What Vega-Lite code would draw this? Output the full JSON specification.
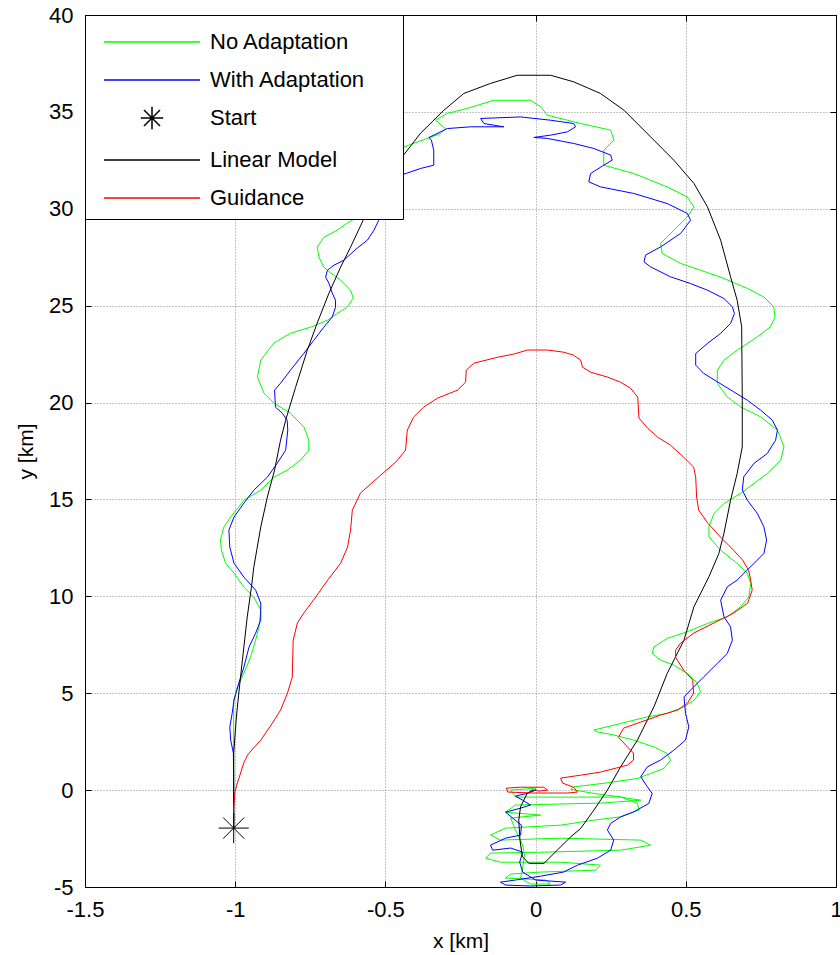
{
"$schema": "https://vega.github.io/schema/vega-lite/v6.json",
"width": 751, "height": 872,
"autosize": {"type": "none"},
"padding": {"left": 85, "top": 15, "right": 4, "bottom": 68},
"background": "white",
"config": {
  "view": {"stroke": "black", "strokeWidth": 1},
  "axis": {"labelFont": "Liberation Sans", "labelFontSize": 22, "labelColor": "black", "titleFont": "Liberation Sans", "titleFontSize": 21, "titleFontWeight": "normal", "titleColor": "black", "domainColor": "black", "tickColor": "black", "tickSize": -6, "gridColor": "#000000", "gridOpacity": 0.45, "gridDash": [1, 2], "gridWidth": 1}
},
"datasets": {
"green": [{"x":-1.005,"y":-1.96},{"x":-1.005,"y":0},{"x":-1.005,"y":1.91},{"x":-1.005,"y":4.64},{"x":-0.993,"y":5.31},{"x":-0.971,"y":6.04},{"x":-0.949,"y":6.86},{"x":-0.932,"y":7.74},{"x":-0.921,"y":8.41},{"x":-0.915,"y":9.29},{"x":-0.938,"y":9.96},{"x":-0.971,"y":10.47},{"x":-1.004,"y":11.2},{"x":-1.032,"y":11.71},{"x":-1.046,"y":12.38},{"x":-1.049,"y":12.9},{"x":-1.038,"y":13.57},{"x":-1.015,"y":14.09},{"x":-0.971,"y":14.96},{"x":-0.915,"y":15.48},{"x":-0.871,"y":16.15},{"x":-0.827,"y":16.51},{"x":-0.782,"y":17.03},{"x":-0.755,"y":17.54},{"x":-0.755,"y":18.06},{"x":-0.771,"y":18.73},{"x":-0.816,"y":19.45},{"x":-0.871,"y":19.97},{"x":-0.904,"y":20.48},{"x":-0.926,"y":21.31},{"x":-0.915,"y":22.19},{"x":-0.871,"y":23.07},{"x":-0.816,"y":23.58},{"x":-0.749,"y":23.89},{"x":-0.693,"y":24.25},{"x":-0.66,"y":24.61},{"x":-0.627,"y":24.92},{"x":-0.607,"y":25.39},{"x":-0.616,"y":25.8},{"x":-0.649,"y":26.32},{"x":-0.682,"y":26.68},{"x":-0.705,"y":26.99},{"x":-0.721,"y":27.5},{"x":-0.727,"y":28.02},{"x":-0.705,"y":28.53},{"x":-0.66,"y":28.9},{"x":-0.627,"y":29.26},{"x":-0.599,"y":29.51},{"x":-0.533,"y":30.7},{"x":-0.483,"y":32.25},{"x":-0.438,"y":33.19},{"x":-0.361,"y":33.63},{"x":-0.316,"y":33.88},{"x":-0.3,"y":34.14},{"x":-0.333,"y":34.57},{"x":-0.294,"y":34.92},{"x":-0.227,"y":35.18},{"x":-0.139,"y":35.6},{"x":-0.017,"y":35.6},{"x":0.017,"y":35.26},{"x":0.039,"y":34.83},{"x":0.106,"y":34.57},{"x":0.15,"y":34.4},{"x":0.25,"y":34.06},{"x":0.261,"y":33.54},{"x":0.227,"y":33.02},{"x":0.227,"y":32.25},{"x":0.327,"y":31.82},{"x":0.438,"y":31.13},{"x":0.505,"y":30.61},{"x":0.527,"y":30.1},{"x":0.505,"y":29.58},{"x":0.472,"y":29.07},{"x":0.416,"y":28.21},{"x":0.422,"y":27.69},{"x":0.483,"y":27.18},{"x":0.549,"y":26.83},{"x":0.627,"y":26.4},{"x":0.705,"y":25.89},{"x":0.76,"y":25.45},{"x":0.793,"y":24.94},{"x":0.797,"y":24.42},{"x":0.782,"y":23.91},{"x":0.738,"y":23.39},{"x":0.671,"y":22.7},{"x":0.627,"y":22.19},{"x":0.605,"y":21.67},{"x":0.605,"y":20.99},{"x":0.638,"y":20.29},{"x":0.682,"y":19.78},{"x":0.749,"y":19.26},{"x":0.805,"y":18.58},{"x":0.827,"y":17.71},{"x":0.816,"y":17.03},{"x":0.771,"y":16.34},{"x":0.727,"y":15.83},{"x":0.682,"y":15.31},{"x":0.627,"y":14.79},{"x":0.594,"y":14.28},{"x":0.577,"y":13.59},{"x":0.577,"y":13.07},{"x":0.616,"y":12.38},{"x":0.671,"y":11.7},{"x":0.705,"y":11.18},{"x":0.716,"y":10.67},{"x":0.71,"y":9.97},{"x":0.682,"y":9.46},{"x":0.638,"y":8.94},{"x":0.572,"y":8.6},{"x":0.505,"y":8.17},{"x":0.438,"y":7.83},{"x":0.394,"y":7.39},{"x":0.388,"y":7.05},{"x":0.416,"y":6.71},{"x":0.46,"y":6.45},{"x":0.505,"y":6.02},{"x":0.538,"y":5.51},{"x":0.549,"y":5.07},{"x":0.527,"y":4.64},{"x":0.494,"y":4.3},{"x":0.438,"y":3.96},{"x":0.372,"y":3.78},{"x":0.283,"y":3.44},{"x":0.194,"y":3.1},{"x":0.205,"y":3.01},{"x":0.261,"y":2.84},{"x":0.327,"y":2.58},{"x":0.394,"y":2.23},{"x":0.438,"y":1.89},{"x":0.449,"y":1.55},{"x":0.427,"y":1.12},{"x":0.339,"y":0.6},{"x":0.227,"y":0.35},{"x":0.127,"y":0.17},{"x":0.117,"y":0.04},{"x":0.194,"y":-0.17},{"x":0.283,"y":-0.35},{"x":0.339,"y":-0.69},{"x":0.344,"y":-1.03},{"x":0.283,"y":-1.38},{"x":0.194,"y":-1.55},{"x":0.083,"y":-1.81},{"x":-0.1,"y":-1.96},{"x":-0.15,"y":-2.32},{"x":-0.117,"y":-2.58},{"x":0.083,"y":-2.48},{"x":0.35,"y":-2.58},{"x":0.383,"y":-2.84},{"x":0.283,"y":-3.1},{"x":0.033,"y":-3.2},{"x":-0.15,"y":-3.25},{"x":-0.166,"y":-3.51},{"x":-0.117,"y":-3.72},{"x":0.083,"y":-3.72},{"x":0.216,"y":-3.87},{"x":0.2,"y":-4.13},{"x":0.017,"y":-4.23},{"x":-0.083,"y":-4.33},{"x":-0.1,"y":-4.54},{"x":0.033,"y":-4.64},{"x":0.05,"y":-4.85},{"x":-0.017,"y":-4.85},{"x":-0.05,"y":-4.54},{"x":-0.043,"y":-4.02},{"x":-0.037,"y":-3.35},{"x":-0.043,"y":-2.84},{"x":-0.067,"y":-2.06},{"x":-0.083,"y":-1.44},{"x":0.017,"y":-1.29},{"x":-0.1,"y":-1.14},{"x":-0.067,"y":-0.77},{"x":0.216,"y":-0.67},{"x":0.35,"y":-0.52},{"x":0.283,"y":-0.36},{"x":-0.067,"y":-0.36},{"x":-0.083,"y":0},{"x":0,"y":0.1},{"x":0,"y":0}],
"blue": [{"x":-1.005,"y":-1.96},{"x":-1.005,"y":0},{"x":-1.006,"y":1.91},{"x":-1.015,"y":2.58},{"x":-1.018,"y":3.25},{"x":-1.01,"y":3.97},{"x":-1.004,"y":4.64},{"x":-0.988,"y":5.52},{"x":-0.971,"y":6.35},{"x":-0.954,"y":7.38},{"x":-0.932,"y":8.1},{"x":-0.915,"y":8.77},{"x":-0.915,"y":9.65},{"x":-0.932,"y":10.32},{"x":-0.971,"y":10.99},{"x":-1.004,"y":11.71},{"x":-1.018,"y":12.54},{"x":-1.021,"y":13.42},{"x":-1.004,"y":14.09},{"x":-0.971,"y":14.81},{"x":-0.938,"y":15.48},{"x":-0.893,"y":16.15},{"x":-0.86,"y":16.87},{"x":-0.832,"y":17.54},{"x":-0.825,"y":18.58},{"x":-0.827,"y":19.09},{"x":-0.843,"y":19.45},{"x":-0.866,"y":19.76},{"x":-0.869,"y":20.64},{"x":-0.849,"y":21.0},{"x":-0.816,"y":21.67},{"x":-0.771,"y":22.55},{"x":-0.738,"y":23.22},{"x":-0.705,"y":23.89},{"x":-0.677,"y":24.41},{"x":-0.666,"y":24.92},{"x":-0.666,"y":25.28},{"x":-0.677,"y":25.65},{"x":-0.688,"y":26.16},{"x":-0.699,"y":26.47},{"x":-0.693,"y":26.83},{"x":-0.671,"y":27.09},{"x":-0.638,"y":27.35},{"x":-0.594,"y":27.97},{"x":-0.56,"y":28.38},{"x":-0.538,"y":28.9},{"x":-0.522,"y":29.41},{"x":-0.483,"y":30.6},{"x":-0.449,"y":31.73},{"x":-0.383,"y":32.08},{"x":-0.339,"y":32.25},{"x":-0.339,"y":33.02},{"x":-0.347,"y":33.54},{"x":-0.355,"y":33.68},{"x":-0.294,"y":34.14},{"x":-0.216,"y":34.23},{"x":-0.106,"y":34.23},{"x":-0.172,"y":34.4},{"x":-0.183,"y":34.66},{"x":-0.05,"y":34.74},{"x":0.05,"y":34.57},{"x":0.127,"y":34.4},{"x":0.133,"y":34.23},{"x":0.106,"y":33.97},{"x":0.05,"y":33.8},{"x":-0.006,"y":33.68},{"x":0.039,"y":33.63},{"x":0.127,"y":33.37},{"x":0.194,"y":33.11},{"x":0.25,"y":32.77},{"x":0.255,"y":32.51},{"x":0.227,"y":32.25},{"x":0.183,"y":31.82},{"x":0.177,"y":31.39},{"x":0.216,"y":31.13},{"x":0.327,"y":30.79},{"x":0.438,"y":30.27},{"x":0.505,"y":29.76},{"x":0.516,"y":29.41},{"x":0.483,"y":28.73},{"x":0.416,"y":28.03},{"x":0.366,"y":27.61},{"x":0.361,"y":27.26},{"x":0.383,"y":27.0},{"x":0.449,"y":26.49},{"x":0.516,"y":26.14},{"x":0.572,"y":25.8},{"x":0.627,"y":25.37},{"x":0.655,"y":24.94},{"x":0.662,"y":24.6},{"x":0.649,"y":24.08},{"x":0.616,"y":23.57},{"x":0.572,"y":23.05},{"x":0.533,"y":22.53},{"x":0.533,"y":21.93},{"x":0.56,"y":21.5},{"x":0.605,"y":21.07},{"x":0.66,"y":20.55},{"x":0.705,"y":20.12},{"x":0.749,"y":19.61},{"x":0.788,"y":19.09},{"x":0.805,"y":18.58},{"x":0.799,"y":18.06},{"x":0.771,"y":17.37},{"x":0.727,"y":16.86},{"x":0.693,"y":16.17},{"x":0.688,"y":15.48},{"x":0.705,"y":14.96},{"x":0.738,"y":14.28},{"x":0.76,"y":13.59},{"x":0.769,"y":12.9},{"x":0.76,"y":12.21},{"x":0.727,"y":11.7},{"x":0.693,"y":11.18},{"x":0.671,"y":10.84},{"x":0.638,"y":10.49},{"x":0.616,"y":9.8},{"x":0.627,"y":8.94},{"x":0.649,"y":8.43},{"x":0.655,"y":7.74},{"x":0.638,"y":7.05},{"x":0.605,"y":6.54},{"x":0.56,"y":5.85},{"x":0.516,"y":5.16},{"x":0.494,"y":4.81},{"x":0.499,"y":3.96},{"x":0.51,"y":3.27},{"x":0.499,"y":2.58},{"x":0.46,"y":2.06},{"x":0.416,"y":1.55},{"x":0.372,"y":1.2},{"x":0.35,"y":0.69},{"x":0.372,"y":0.17},{"x":0.388,"y":-0.17},{"x":0.377,"y":-0.69},{"x":0.327,"y":-1.12},{"x":0.283,"y":-1.38},{"x":0.25,"y":-1.72},{"x":0.239,"y":-2.06},{"x":0.26,"y":-2.58},{"x":0.25,"y":-3.1},{"x":0.206,"y":-3.51},{"x":0.14,"y":-3.87},{"x":0.093,"y":-4.23},{"x":0.017,"y":-4.44},{"x":-0.067,"y":-4.64},{"x":-0.117,"y":-4.75},{"x":-0.1,"y":-4.9},{"x":-0.017,"y":-4.95},{"x":0.083,"y":-4.9},{"x":0.1,"y":-4.75},{"x":0,"y":-4.64},{"x":-0.043,"y":-4.23},{"x":-0.053,"y":-3.72},{"x":-0.043,"y":-3.2},{"x":-0.083,"y":-2.99},{"x":-0.143,"y":-3.1},{"x":-0.15,"y":-2.84},{"x":-0.1,"y":-2.48},{"x":-0.05,"y":-2.32},{"x":-0.047,"y":-1.81},{"x":-0.077,"y":-1.44},{"x":-0.1,"y":-1.14},{"x":-0.05,"y":-0.93},{"x":-0.017,"y":-0.77},{"x":-0.043,"y":-0.52},{"x":-0.067,"y":-0.31},{"x":-0.023,"y":-0.15},{"x":0,"y":0}],
"black": [{"x":-1.005,"y":-1.96},{"x":-1.005,"y":0},{"x":-1.005,"y":1.91},{"x":-0.996,"y":3.77},{"x":-0.988,"y":5.01},{"x":-0.976,"y":6.71},{"x":-0.96,"y":8.93},{"x":-0.946,"y":10.47},{"x":-0.938,"y":11.51},{"x":-0.915,"y":13.57},{"x":-0.893,"y":15.12},{"x":-0.869,"y":16.51},{"x":-0.849,"y":18.06},{"x":-0.832,"y":19.09},{"x":-0.799,"y":20.79},{"x":-0.76,"y":22.7},{"x":-0.727,"y":24.1},{"x":-0.688,"y":25.64},{"x":-0.649,"y":26.99},{"x":-0.616,"y":28.02},{"x":-0.574,"y":29.41},{"x":-0.516,"y":30.96},{"x":-0.444,"y":32.68},{"x":-0.383,"y":33.9},{"x":-0.305,"y":35.09},{"x":-0.239,"y":35.95},{"x":-0.15,"y":36.47},{"x":-0.061,"y":36.89},{"x":0.05,"y":36.89},{"x":0.127,"y":36.55},{"x":0.216,"y":35.95},{"x":0.294,"y":35.09},{"x":0.383,"y":33.71},{"x":0.46,"y":32.51},{"x":0.527,"y":31.31},{"x":0.572,"y":30.1},{"x":0.616,"y":28.38},{"x":0.649,"y":26.49},{"x":0.671,"y":25.28},{"x":0.686,"y":23.91},{"x":0.688,"y":20.12},{"x":0.688,"y":17.71},{"x":0.671,"y":16.34},{"x":0.649,"y":14.96},{"x":0.627,"y":13.25},{"x":0.61,"y":12.21},{"x":0.577,"y":11.01},{"x":0.527,"y":9.46},{"x":0.494,"y":7.74},{"x":0.438,"y":6.02},{"x":0.394,"y":4.3},{"x":0.339,"y":2.58},{"x":0.283,"y":1.2},{"x":0.239,"y":0},{"x":0.194,"y":-1.03},{"x":0.15,"y":-1.98},{"x":0.117,"y":-2.41},{"x":0.072,"y":-3.1},{"x":0.028,"y":-3.78},{"x":-0.022,"y":-3.78},{"x":-0.044,"y":-3.44},{"x":-0.052,"y":-2.58},{"x":-0.056,"y":-1.55},{"x":-0.05,"y":-0.86},{"x":-0.028,"y":-0.17},{"x":-0.011,"y":0},{"x":0,"y":0}],
"red": [{"x":-1.005,"y":-1.96},{"x":-1.005,"y":-0.93},{"x":-1.001,"y":-0.1},{"x":-0.993,"y":0.36},{"x":-0.982,"y":0.88},{"x":-0.972,"y":1.39},{"x":-0.959,"y":1.81},{"x":-0.939,"y":2.17},{"x":-0.915,"y":2.58},{"x":-0.876,"y":3.46},{"x":-0.849,"y":4.13},{"x":-0.826,"y":5.01},{"x":-0.81,"y":5.83},{"x":-0.807,"y":7.74},{"x":-0.793,"y":8.62},{"x":-0.772,"y":9.13},{"x":-0.732,"y":9.96},{"x":-0.692,"y":10.84},{"x":-0.649,"y":11.71},{"x":-0.626,"y":12.54},{"x":-0.616,"y":13.42},{"x":-0.61,"y":14.45},{"x":-0.583,"y":15.33},{"x":-0.516,"y":16.25},{"x":-0.466,"y":16.92},{"x":-0.433,"y":17.54},{"x":-0.427,"y":18.58},{"x":-0.406,"y":19.25},{"x":-0.373,"y":19.76},{"x":-0.326,"y":20.23},{"x":-0.26,"y":20.64},{"x":-0.233,"y":21.05},{"x":-0.231,"y":21.67},{"x":-0.206,"y":22.03},{"x":-0.126,"y":22.34},{"x":-0.073,"y":22.5},{"x":-0.027,"y":22.71},{"x":0.04,"y":22.71},{"x":0.093,"y":22.6},{"x":0.126,"y":22.45},{"x":0.15,"y":22.19},{"x":0.156,"y":21.83},{"x":0.183,"y":21.57},{"x":0.24,"y":21.31},{"x":0.283,"y":21.05},{"x":0.316,"y":20.74},{"x":0.34,"y":20.28},{"x":0.344,"y":19.2},{"x":0.373,"y":18.68},{"x":0.406,"y":18.22},{"x":0.449,"y":17.8},{"x":0.493,"y":17.18},{"x":0.526,"y":16.67},{"x":0.533,"y":16.15},{"x":0.536,"y":15.12},{"x":0.543,"y":14.45},{"x":0.573,"y":13.78},{"x":0.616,"y":13.05},{"x":0.659,"y":12.38},{"x":0.689,"y":11.87},{"x":0.709,"y":11.35},{"x":0.716,"y":10.84},{"x":0.721,"y":10.32},{"x":0.706,"y":9.65},{"x":0.659,"y":9.13},{"x":0.593,"y":8.62},{"x":0.526,"y":8.1},{"x":0.483,"y":7.59},{"x":0.466,"y":7.22},{"x":0.466,"y":6.86},{"x":0.493,"y":6.19},{"x":0.523,"y":5.68},{"x":0.526,"y":5.01},{"x":0.506,"y":4.49},{"x":0.473,"y":4.13},{"x":0.416,"y":3.87},{"x":0.35,"y":3.51},{"x":0.293,"y":3.2},{"x":0.276,"y":2.73},{"x":0.306,"y":2.22},{"x":0.326,"y":1.91},{"x":0.326,"y":1.55},{"x":0.306,"y":1.29},{"x":0.216,"y":0.93},{"x":0.15,"y":0.77},{"x":0.083,"y":0.62},{"x":0.09,"y":0.36},{"x":0.126,"y":0.15},{"x":0.14,"y":-0.1},{"x":0.107,"y":-0.15},{"x":0.04,"y":-0.15},{"x":-0.007,"y":-0.15},{"x":-0.093,"y":-0.1},{"x":-0.097,"y":0.1},{"x":-0.05,"y":0.15},{"x":0.027,"y":0.15},{"x":0.04,"y":0},{"x":0.01,"y":-0.05},{"x":0,"y":0}],
"start": [{"x":-1.005,"y":-1.96}]
},
"resolve": {"axis": {"x": "independent", "y": "independent"}},
"layer": [
  {"data": {"name": "green"},
   "mark": {"type": "line", "strokeWidth": 1},
   "encoding": {
     "x": {"field": "x", "type": "quantitative", "scale": {"domain": [-1.5, 1], "nice": false, "zero": false},
           "axis": {"orient": "bottom", "values": [-1.5, -1, -0.5, 0, 0.5, 1], "labelExpr": "datum.value + ''", "title": "x [km]", "grid": true, "labelPadding": 18, "titlePadding": 10, "labelFlush": false}},
     "y": {"field": "y", "type": "quantitative", "scale": {"domain": [-5, 40], "nice": false, "zero": false},
           "axis": {"orient": "left", "values": [-5, 0, 5, 10, 15, 20, 25, 30, 35, 40], "labelExpr": "datum.value + ''", "title": "y [km]", "grid": true, "labelPadding": 18, "titlePadding": 12, "labelFlush": false}},
     "color": {"datum": "No Adaptation", "type": "nominal",
       "scale": {"domain": ["No Adaptation", "With Adaptation", "Start", "Linear Model", "Guidance"], "range": ["#00ff00", "#0000ff", "#000000", "#000000", "#ff0000"]},
       "legend": {"title": "\u00a0", "titleOrient": "right", "titlePadding": 28, "titleFontSize": 4, "orient": "top-left", "offset": 0, "fillColor": "white", "strokeColor": "black", "padding": 10, "symbolType": "stroke", "symbolSize": 1024, "symbolStrokeWidth": 1.5, "labelOffset": 81, "labelFont": "Liberation Sans", "labelFontSize": 22, "labelColor": "black", "rowPadding": 10,
         "encode": {"symbols": {"update": {
           "shape": {"signal": "datum.value === 'Start' ? 'M1.8,0H3.2M2.5,-0.7V0.7M2,-0.5L3,0.5M2,0.5L3,-0.5' : 'M-0.5,0H5.5'"}}}}}},
     "order": {"value": null}
   }},
  {"data": {"name": "blue"},
   "mark": {"type": "line", "strokeWidth": 1},
   "encoding": {
     "x": {"field": "x", "type": "quantitative", "axis": null},
     "y": {"field": "y", "type": "quantitative", "axis": null},
     "color": {"datum": "With Adaptation", "type": "nominal"},
     "order": {"value": null}
   }},
  {"data": {"name": "black"},
   "mark": {"type": "line", "strokeWidth": 1},
   "encoding": {
     "x": {"field": "x", "type": "quantitative", "axis": null},
     "y": {"field": "y", "type": "quantitative", "axis": null},
     "color": {"datum": "Linear Model", "type": "nominal"},
     "order": {"value": null}
   }},
  {"data": {"name": "red"},
   "mark": {"type": "line", "strokeWidth": 1},
   "encoding": {
     "x": {"field": "x", "type": "quantitative", "axis": null},
     "y": {"field": "y", "type": "quantitative", "axis": null},
     "color": {"datum": "Guidance", "type": "nominal"},
     "order": {"value": null}
   }},
  {"data": {"name": "start"},
   "mark": {"type": "point", "shape": "M-0.95,0H0.95M0,-0.95V0.95M-0.67,-0.67L0.67,0.67M-0.67,0.67L0.67,-0.67", "size": 1000, "filled": false, "strokeWidth": 1, "opacity": 1},
   "encoding": {
     "x": {"field": "x", "type": "quantitative", "axis": {"orient": "top", "values": [-1.5, -1, -0.5, 0, 0.5, 1], "labels": false, "title": null, "grid": false}},
     "y": {"field": "y", "type": "quantitative", "axis": {"orient": "right", "values": [-5, 0, 5, 10, 15, 20, 25, 30, 35, 40], "labels": false, "title": null, "grid": false}},
     "color": {"datum": "Start", "type": "nominal"}
   }}
]
}
